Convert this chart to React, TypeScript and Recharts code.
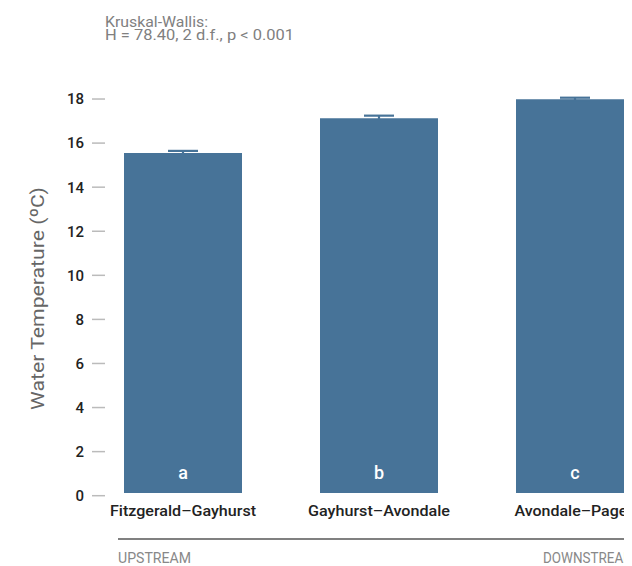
import React from "react";
import { BarChart, Bar, XAxis, YAxis, ErrorBar, LabelList } from "recharts";

const categories = ["Fitzgerald–Gayhurst", "Gayhurst–Avondale", "Avondale–Pages"];
const meanTemp = [15.53, 17.12, 17.99];
const errTemp = [0.1, 0.12, 0.07];
const groupLetters = ["a", "b", "c"];
const yTicks = [0, 2, 4, 6, 8, 10, 12, 14, 16, 18];
const catLabelWidths = [146, 142, 121];

const data = categories.map((c, i) => ({
  name: c,
  temp: meanTemp[i],
  err: errTemp[i],
  letter: groupLetters[i],
}));

const FONT = "Roboto, 'Liberation Sans', sans-serif";
const BAR = "#477398";

const PLOT_TOP = 89.7;
const PLOT_BOTTOM = 485;

const YTick = (props: any) => {
  const { y, payload } = props;
  const yy = PLOT_TOP + (y - PLOT_TOP) * (398 / (PLOT_BOTTOM - PLOT_TOP));
  return (
    <g>
      <text
        x={76}
        y={yy}
        dy="0.36em"
        textAnchor="end"
        fontFamily={FONT}
        fontSize={15}
        fontWeight={500}
        fill="#222"
      >
        {payload.value}
      </text>
      <line x1={84} x2={97} y1={yy} y2={yy} stroke="#bbb" strokeWidth={1.5} />
    </g>
  );
};

const XTick = (props: any) => {
  const { x, payload, index } = props;
  return (
    <text
      x={x}
      y={508}
      textAnchor="middle"
      fontFamily={FONT}
      fontSize={15}
      fontWeight={500}
      fill="#222"
      textLength={catLabelWidths[index]}
      lengthAdjust="spacingAndGlyphs"
    >
      {payload.value}
    </text>
  );
};

export default function App() {
  return (
    <div style={{ position: "relative", width: 624, height: 558, overflow: "hidden" }}>
      <BarChart
        width={700}
        height={558}
        data={data}
        margin={{ top: PLOT_TOP, right: 35, bottom: 558 - PLOT_BOTTOM - 30, left: 0 }}
      >
        <XAxis
          dataKey="name"
          axisLine={false}
          tickLine={false}
          height={30}
          interval={0}
          tick={<XTick />}
        />
        <YAxis
          width={77}
          domain={[0, 18]}
          ticks={yTicks}
          axisLine={false}
          tickLine={false}
          tick={<YTick />}
          interval={0}
        />
        <Bar dataKey="temp" fill={BAR} barSize={118} isAnimationActive={false}>
          <ErrorBar dataKey="err" width={15} strokeWidth={2.2} stroke={BAR} />
          <LabelList
            dataKey="letter"
            position="insideBottom"
            offset={14}
            fill="#fff"
            fontFamily={FONT}
            fontSize={18}
            fontWeight={500}
          />
        </Bar>
      </BarChart>
      <svg
        width={624}
        height={558}
        style={{ position: "absolute", left: 0, top: 0, pointerEvents: "none" }}
      >
        <text x={97} y={19.3} fontFamily={FONT} fontSize={15} fill="#808080" textLength={103} lengthAdjust="spacingAndGlyphs">
          Kruskal-Wallis:
        </text>
        <text x={97} y={32} fontFamily={FONT} fontSize={15} fill="#808080" textLength={189} lengthAdjust="spacingAndGlyphs">
          H = 78.40, 2 d.f., p &lt; 0.001
        </text>
        <text
          x={0}
          y={0}
          transform="translate(29,290.5) rotate(-90)"
          textAnchor="middle"
          dominantBaseline="central"
          fontFamily={FONT}
          fontSize={19}
          fill="#666"
          textLength={223}
          lengthAdjust="spacingAndGlyphs"
        >
          Water Temperature (ºC)
        </text>
        <line x1={110} x2={623} y1={531} y2={531} stroke="#808080" strokeWidth={2} />
        <line x1={623} x2={623} y1={525} y2={539} stroke="#808080" strokeWidth={2} />
        <text x={110} y={554.7} fontFamily={FONT} fontSize={15} fill="#888" textLength={73} lengthAdjust="spacingAndGlyphs">
          UPSTREAM
        </text>
        <text x={535} y={554.7} fontFamily={FONT} fontSize={15} fill="#888" textLength={92} lengthAdjust="spacingAndGlyphs">
          DOWNSTREAM
        </text>
      </svg>
    </div>
  );
}
